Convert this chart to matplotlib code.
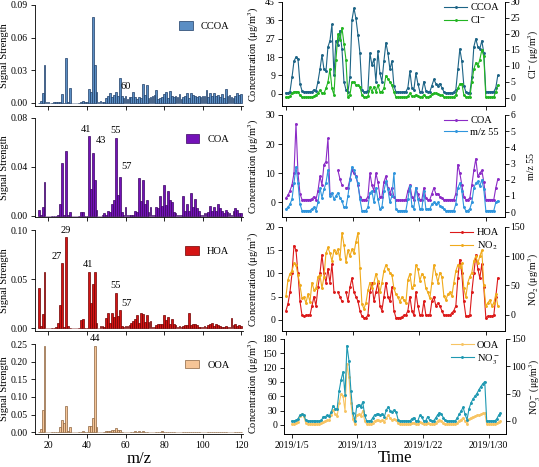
import numpy as np
import matplotlib
matplotlib.use("Agg")
import matplotlib.pyplot as plt
from matplotlib.patches import Patch
from matplotlib.lines import Line2D

plt.rcParams['font.family'] = ['Liberation Serif', 'DejaVu Serif']
plt.rcParams['mathtext.fontset'] = 'stix'
plt.rcParams['font.size'] = 7

nan = np.nan

# ---- mass spectra (m/z 15..120) ----
mz = np.arange(15, 121)

ccoa_ms = [0.0, 0.002, 0.009, 0.035, 0.0005, 0.0003, 0.0, 0.0, 0.0003, 0.0005,
           0.001, 0.001, 0.008, 0.0, 0.041, 0.001, 0.014, 0.0, 0.0, 0.0,
           0.0, 0.0, 0.0005, 0.002, 0.001, 0.0005, 0.013, 0.010, 0.079, 0.035,
           0.010, 0.001, 0.002, 0.001, 0.001, 0.004, 0.006, 0.009, 0.005, 0.007,
           0.010, 0.006, 0.023, 0.006, 0.004, 0.006, 0.003, 0.005, 0.005, 0.010,
           0.005, 0.003, 0.005, 0.004, 0.017, 0.007, 0.016, 0.004, 0.005, 0.006,
           0.007, 0.012, 0.003, 0.004, 0.005, 0.008, 0.010, 0.004, 0.011, 0.006,
           0.005, 0.006, 0.005, 0.008, 0.003, 0.005, 0.006, 0.009, 0.004, 0.009,
           0.007, 0.006, 0.005, 0.006, 0.005, 0.006, 0.006, 0.012, 0.005, 0.009,
           0.006, 0.009, 0.006, 0.007, 0.005, 0.008, 0.004, 0.013, 0.006, 0.007,
           0.005, 0.004, 0.006, 0.009, 0.007, 0.008]

coa_ms = [0.005, 0.001, 0.007, 0.028, 0.0, 0.0, 0.0, 0.0, 0.0, 0.0,
          0.001, 0.010, 0.043, 0.001, 0.053, 0.001, 0.003, 0.0, 0.0, 0.0,
          0.0, 0.0, 0.003, 0.003, 0.0, 0.0, 0.065, 0.022, 0.051, 0.029,
          0.005, 0.0, 0.0, 0.001, 0.002, 0.001, 0.004, 0.003, 0.010, 0.013,
          0.064, 0.017, 0.032, 0.003, 0.001, 0.007, 0.001, 0.0005, 0.001, 0.001,
          0.004, 0.003, 0.031, 0.012, 0.029, 0.010, 0.013, 0.003, 0.007, 0.001,
          0.001, 0.007, 0.006, 0.016, 0.008, 0.025, 0.009, 0.020, 0.013, 0.011,
          0.003, 0.002, 0.001, 0.001, 0.001, 0.016, 0.004, 0.010, 0.004, 0.019,
          0.007, 0.014, 0.006, 0.004, 0.001, 0.001, 0.002, 0.002, 0.003, 0.008,
          0.004, 0.007, 0.004, 0.010, 0.006, 0.004, 0.002, 0.005, 0.003, 0.002,
          0.001, 0.004, 0.006, 0.005, 0.002, 0.002]

hoa_ms = [0.041, 0.002, 0.014, 0.057, 0.0, 0.0, 0.0, 0.0, 0.0, 0.001,
          0.005, 0.024, 0.066, 0.001, 0.093, 0.002, 0.0, 0.0, 0.0, 0.0,
          0.0, 0.0, 0.008, 0.009, 0.0, 0.0, 0.057, 0.026, 0.045, 0.057,
          0.005, 0.0, 0.002, 0.002, 0.001, 0.010, 0.015, 0.005, 0.015, 0.011,
          0.036, 0.012, 0.018, 0.002, 0.001, 0.002, 0.002, 0.003, 0.005, 0.007,
          0.009, 0.013, 0.005, 0.015, 0.014, 0.006, 0.013, 0.006, 0.007, 0.001,
          0.001, 0.003, 0.004, 0.004, 0.004, 0.013, 0.008, 0.011, 0.004, 0.009,
          0.004, 0.003, 0.001, 0.002, 0.001, 0.002, 0.003, 0.003, 0.015, 0.003,
          0.004, 0.004, 0.003, 0.001, 0.001, 0.001, 0.002, 0.001, 0.003, 0.004,
          0.005, 0.002, 0.004, 0.003, 0.002, 0.001, 0.001, 0.002, 0.001, 0.001,
          0.010, 0.003, 0.004, 0.002, 0.003, 0.002]

ooa_ms = [0.0, 0.010, 0.062, 0.245, 0.0, 0.0, 0.0, 0.0, 0.0, 0.001,
          0.002, 0.015, 0.036, 0.025, 0.075, 0.003, 0.016, 0.0, 0.0, 0.0,
          0.0, 0.0, 0.001, 0.004, 0.001, 0.001, 0.019, 0.019, 0.040, 0.245,
          0.014, 0.001, 0.001, 0.001, 0.001, 0.003, 0.003, 0.003, 0.006, 0.005,
          0.013, 0.006, 0.005, 0.002, 0.002, 0.002, 0.001, 0.001, 0.001, 0.001,
          0.003, 0.002, 0.003, 0.002, 0.003, 0.002, 0.002, 0.001, 0.001, 0.001,
          0.001, 0.001, 0.002, 0.001, 0.003, 0.001, 0.002, 0.001, 0.001, 0.001,
          0.001, 0.001, 0.001, 0.0005, 0.0005, 0.001, 0.002, 0.001, 0.001, 0.001,
          0.001, 0.001, 0.001, 0.0005, 0.0005, 0.0005, 0.001, 0.001, 0.001, 0.001,
          0.002, 0.0005, 0.0005, 0.0005, 0.0005, 0.0005, 0.001, 0.0005, 0.0005, 0.0005,
          0.001, 0.0005, 0.0005, 0.0005, 0.001, 0.0005]

# ---- time series, 6-hourly from 2019/1/5 00:00 (x = day of January) ----
days = 5 + 0.25 * np.arange(107)

ccoa_ts = [0.5, 0.5, 1, 8, 16, 18, 17, 5, 1.5, 1,
           1, 1, 1, 1, 2, 1.5, 6, 12, 19, 12,
           11, 23, 26, 34, 9, 26, 24, 31, 22, 6,
           2, 1, 8, 36, 42, 37, 29, 20, 2, 1,
           1, 1.5, 20, 14, 17, 6, 21, 10, 6, 16,
           25, 20, 12, 16, 4, 1, 1, 0.8, 0.8, 1,
           1, 3, 11, 3, 2, 10, 5, 1, 1, 6,
           1.5, 1, 1, 4, 7, 5, 4, 5, 3, 1,
           0.5, 0.5, 0.5, 0.5, 0.8, 2, 12, 22, 16, 4,
           1, 0.5, 0.5, 8, 23, 27, 23, 22, 26, 20,
           1, 1, 1, 1, 1, 3, 9]
cl_ts = [0.3, 0.3, 0.5, 1.5, 2, 2, 2, 0.8, 0.3, 0.3,
         0.3, 0.3, 0.3, 0.3, 0.5, 1, 1.5, 2.5, 1.5, 1.5,
         3, 5, 9, 3, 1, 12, 20, 18, 22, 17,
         12, 0.3, 1, 5, 5, 4, 4, 3.5, 1, 0.3,
         0.3, 0.5, 3.4, 2, 3.5, 2, 4, 2, 2, 3,
         7, 6, 5, 4, 2, 0.3, 0.3, 0.3, 0.3, 0.3,
         0.3, 0.5, 1.5, 0.5, 0.5, 1, 0.5, 0.3, 0.3, 1,
         0.3, 0.3, 0.5, 1.2, 1.5, 1.5, 1.2, 1, 0.8, 0.3,
         0.3, 0.3, 0.3, 0.3, 0.3, 1, 3, 4.4, 4.5, 1,
         0.3, 0.3, 0.3, 5, 9, 11, 10, 12, 15, 13,
         0.3, 0.3, 0.3, 0.3, 0.3, 2, 4]

coa_ts = [1.5, 2.5, 4, 6, 10, 27, 10, 3, 1, 1,
          1, 1, 1, 1.2, 2, 1, 4, 9, 6, 13,
          14, 22, 3, nan, nan, nan, 11, 8, 6, nan,
          5, 5, 8, 11, 10, 9, 6, 2, 1, 1,
          1, 2, 10, 6, 4, 10, 7, 2, 2, 7,
          9, 5, 3, 5, 2, 1, 0.8, 0.8, 0.8, 0.8,
          1, 4, 6, 2, 1, 5, 3, 1, 1, 5,
          1.5, 1, 1, 3, 5, 3, 3, 2, 1.5, 1,
          1, 1, 1, 1, 1, 3, 13, 10, 6, 2,
          1, 1, 1.5, 6, 11, 15, 9, 10, 11, 7,
          1, 1, 1, 1, 1, 5, 8]
mz55_ts = [0.2, 0.3, 0.5, 0.8, 1.8, 2.8, 1.8, 0.5, 0.1, 0.1,
           0.1, 0.1, 0.1, 0.2, 0.3, 0.1, 0.6, 1.5, 0.9, 1.4,
           1.8, 2.6, 1.0, 1.2, 0.8, 1.0, 1.2, 0.9, 0.7, 0.3,
           0.3, 1.0, 2.0, 2.8, 2.6, 2.2, 1.8, 0.8, 0.1, 0.1,
           0.1, 0.3, 1.2, 1.3, 0.6, 1.5, 0.8, 0.2, 0.3, 1.3,
           1.9, 1.4, 0.6, 1.0, 2.4, 0.2, 0.1, 0.1, 0.1, 0.1,
           0.1, 0.8, 1.6, 0.4, 0.2, 1.5, 0.8, 0.2, 0.2, 1.3,
           0.2, 0.2, 0.2, 0.5, 0.6, 0.5, 0.6, 0.4, 0.3, 0.2,
           0.1, 0.1, 0.1, 0.1, 0.1, 0.5, 1.5, 1.8, 1.3, 0.3,
           0.1, 0.1, 0.2, 0.6, 1.5, 1.8, 1.9, 1.6, 2.0, 1.4,
           0.1, 0.1, 0.1, 0.1, 0.1, 0.6, 0.7]

hoa_ts = [2, 3.5, 6, 10, 16, 15, 10, 4, 1, 0.8,
          1, 1, 1, 3, 5, 3, 7, 10, 14, 10,
          8, 11, 8, 12, 6, nan, 6, 5, 4, nan,
          6, 4, 7, 9, 6, 5, 4, 2, 0.8, 0.5,
          0.5, 1, 6, 8, 4, 6, 8, 3, 2, 5,
          8, 5, 4, 7, 2, 0.5, 0.5, 0.5, 0.6, 1,
          1, 2, 5, 2, 1, 6, 3, 1, 1, 4,
          1, 1, 1, 4, 5, 3, 3.6, 3, 2, 1,
          1, 1, 1, 1.5, 2, 3, 9, 13, 10, 4,
          0.8, 0.8, 1, 6, 10, 14, 11, 9, 12, 7,
          0.5, 0.8, 0.8, 0.8, 1, 5, 9]
no2_ts = [32, 60, 70, 75, 88, 85, 68, 50, 28, 30,
          20, 35, 22, 55, 42, 45, 65, 68, 45, 65,
          105, 115, 105, 92, 110, 105, 112, 95, 140, 120,
          90, 110, 100, 112, 105, 125, 140, 80, 18, 10,
          20, 42, 55, 45, 55, 70, 58, 38, 55, 75,
          85, 78, 72, 68, 45, 35, 30, 22, 30, 25,
          20, 60, 70, 45, 50, 85, 78, 58, 70, 65,
          45, 38, 28, 55, 85, 70, 55, 72, 65, 32,
          25, 35, 38, 32, 55, 75, 85, 82, 88, 45,
          30, 55, 65, 72, 92, 100, 88, 100, 110, 50,
          15, 20, 25, 15, 20, 35, 15]

ooa_ts = [2, 2, 3, 6, 18, 22, 18, 5, 2, 2,
          2, 2, 2, 2, 2, 3, 6, 8, 10, 10,
          20, 32, 22, 18, 45, 65, 60, 30, 128, 100,
          45, 12, 2, 20, 22, 18, 30, 8, 2, 2,
          2, 4, 8, 10, 10, 9, 10, 7, 15, 20,
          14, 11, 12, 10, 3, 2, 2, 2, 2, 2,
          2, 4, 5, 2, 2, 6, 5, 2, 2, 5,
          2, 2, 2, 4, 8, 10, 9, 5, 2, 2,
          2, 2, 2, 2, 4, 9, 11, 15, 8, 2,
          12, 15, 17, 18, 20, 21, 22, 24, 25, 2,
          2, 2, 2, 2, 3, 6, 8]
no3_ts = [0, 0, 1, 3, 10, 12, 11, 2, 0, 0,
          0, 0, 0, 0, 0, 1, 8, 8, 10, 9,
          16, 28, 22, 22, 55, 75, 90, 48, 138, 110,
          55, 15, 0, 28, 30, 25, 35, 10, 0, 0,
          0, 5, 11, 12, 12, 11, 13, 8, 20, 26,
          18, 17, 20, 16, 2, 0, 0, 0, 0, 0,
          0, 4, 6, 0, 0, 10, 7, 0, 0, 8,
          1, 0, 0, 5, 11, 15, 12, 6, 1, 0,
          0, 0, 0, 0, 5, 12, 18, 25, 12, 2,
          22, 33, 40, 45, 50, 57, 63, 68, 72, 0,
          0, 0, 0, 0, 3, 10, 14]

date_ticks = [5, 13.33, 21.67, 30]
date_labels = ["2019/1/5", "2019/1/13", "2019/1/22", "2019/1/30"]

fig = plt.figure(figsize=(5.39, 4.67), dpi=100)
W, H = 539.0, 467.0

def box(x0, x1, ytop, ybot):
    return [x0 / W, 1 - ybot / H, (x1 - x0) / W, (ybot - ytop) / H]

# ---- left column: factor mass spectra ----
left_specs = [
    # name, values, face, edge, (top px, bottom px), ylim, yticks, peak labels (m/z, y, dx, dy)
    ("CCOA", ccoa_ms, "#5b8ec4", "#1e3d66", (5, 106), (-0.003, 0.09), [0, 0.03, 0.06, 0.09],
     [(60, 0.008, 0, 2)]),
    ("COA", coa_ms, "#7412b8", "#3a0560", (118, 217), (-0.001, 0.08), [0, 0.04, 0.08],
     [(41, 0.065, -2, 2), (43, 0.051, 6, 6), (55, 0.064, 0, 2), (57, 0.032, 5, 4)]),
    ("HOA", hoa_ms, "#d41414", "#6e0000", (230, 331), (-0.003, 0.10), [0, 0.05, 0.10],
     [(27, 0.066, -4, 2), (29, 0.093, 0, 1), (41, 0.057, -1, 2), (55, 0.036, 0, 2), (57, 0.018, 5, 2)]),
    ("OOA", ooa_ms, "#f6c597", "#8a6440", (344, 434), (-0.005, 0.25), [0, 0.05, 0.10, 0.15, 0.20, 0.25],
     [(44, 0.245, 0, 2)]),
]

for i, (name, vals, face, edge, (yt, yb), ylim, yt_list, labels) in enumerate(left_specs):
    ax = fig.add_axes(box(35, 243, yt, yb))
    ax.bar(mz, vals, width=0.9, color=face, edgecolor=edge, linewidth=0.5)
    ax.set_xlim(13, 121)
    ax.set_ylim(*ylim)
    ax.set_yticks(yt_list)
    ax.set_yticklabels(["%.2f" % v for v in yt_list])
    ax.set_xticks([20, 40, 60, 80, 100, 120])
    if i < 3:
        ax.set_xticklabels([])
    ax.spines['top'].set_visible(False)
    ax.spines['right'].set_visible(False)
    ax.tick_params(direction='out', length=3, width=0.6, labelsize=7, pad=2)
    for sp in ax.spines.values():
        sp.set_linewidth(0.6)
    ax.set_ylabel("Signal Strength", fontsize=7.5)
    ax.yaxis.set_label_coords(-0.125, 0.5)
    ax.legend(handles=[Patch(facecolor=face, edgecolor=edge, linewidth=0.5, label=name)],
              loc='upper right', bbox_to_anchor=(0.98, 0.93), frameon=False,
              fontsize=7.5, handlelength=1.3, handleheight=0.9)
    for m, v, dx, dy in labels:
        ax.annotate(str(m), xy=(m, v), xytext=(dx, dy), textcoords='offset points',
                    ha='center', va='bottom', fontsize=7.5, annotation_clip=False)
    if i == 3:
        ax.set_xlabel("m/z", fontsize=12, labelpad=1)

# ---- right column: time series ----
right_specs = [
    (ccoa_ts, "CCOA", "#1d6486", cl_ts, "Cl$^{-}$", "#22b522", (282, 505, 2, 106),
     (-6, 45), [0, 9, 18, 27, 36, 45], (-2.5, 30), [0, 5, 10, 15, 20, 25, 30],
     "Cl$^{-}$ (\u03bcg/m$^3$)"),
    (coa_ts, "COA", "#8b2bc6", mz55_ts, "m/z 55", "#2f95dd", (282, 505, 115, 217),
     (-5, 30), [0, 10, 20, 30], (-0.3, 6), [0, 1, 2, 3, 4, 5, 6], "m/z 55"),
    (hoa_ts, "HOA", "#dc1a1a", no2_ts, "NO$_2$", "#f0aa1c", (282, 505, 227, 331),
     (-2.4, 20), [0, 5, 10, 15, 20], (-28, 150), [0, 50, 100, 150],
     "NO$_2$ (\u03bcg/m$^3$)"),
    (ooa_ts, "OOA", "#f7c463", no3_ts, "NO$_3^-$", "#1f99b2", (284, 506, 339, 434),
     (-19, 180), [0, 30, 60, 90, 120, 150, 180], (-24, 150), [0, 50, 100, 150],
     "NO$_3^-$ (\u03bcg/m$^3$)"),
]

for i, (s1, n1, c1, s2, n2, c2, (x0, x1, yt, yb), yl1, yt1, yl2, yt2, rlab) in enumerate(right_specs):
    ax = fig.add_axes(box(x0, x1, yt, yb))
    ax2 = ax.twinx()
    ax.plot(days, s1, color=c1, lw=0.8, marker='.', ms=2.2)
    ax2.plot(days, s2, color=c2, lw=0.8, marker='.', ms=2.2)
    if i == 3:
        ax.set_xlim(4.0, 32.2)
    else:
        ax.set_xlim(4.5, 32.4)
    ax.set_ylim(*yl1)
    ax.set_yticks(yt1)
    ax2.set_ylim(*yl2)
    ax2.set_yticks(yt2)
    ax.set_xticks(date_ticks)
    if i == 3:
        ax.set_xticklabels(date_labels)
        ax.set_xlabel("Time", fontsize=12, labelpad=0)
    else:
        ax.set_xticklabels([])
    for a in (ax, ax2):
        a.spines['top'].set_visible(False)
        a.tick_params(direction='out', length=3, width=0.6, labelsize=7, pad=2)
        for sp in a.spines.values():
            sp.set_linewidth(0.6)
    ax2.tick_params(pad=1)
    ax.set_ylabel("Concentration (\u03bcg/m$^3$)", fontsize=7.5)
    ax.yaxis.set_label_coords((261 - x0) / (x1 - x0), 0.5)
    ax2.set_ylabel(rlab, fontsize=7)
    ax2.yaxis.set_label_coords((527 - x0) / (x1 - x0), 0.5)
    handles = [Line2D([], [], color=c1, lw=0.8, marker='.', ms=2.2, label=n1),
               Line2D([], [], color=c2, lw=0.8, marker='.', ms=2.2, label=n2)]
    ax2.legend(handles=handles, loc='upper right', bbox_to_anchor=(1.0, 1.05),
               frameon=False, fontsize=7.5, handlelength=2.2, labelspacing=0.2,
               handletextpad=0.3, borderaxespad=0.2)

fig.savefig("out.png", dpi=100)
